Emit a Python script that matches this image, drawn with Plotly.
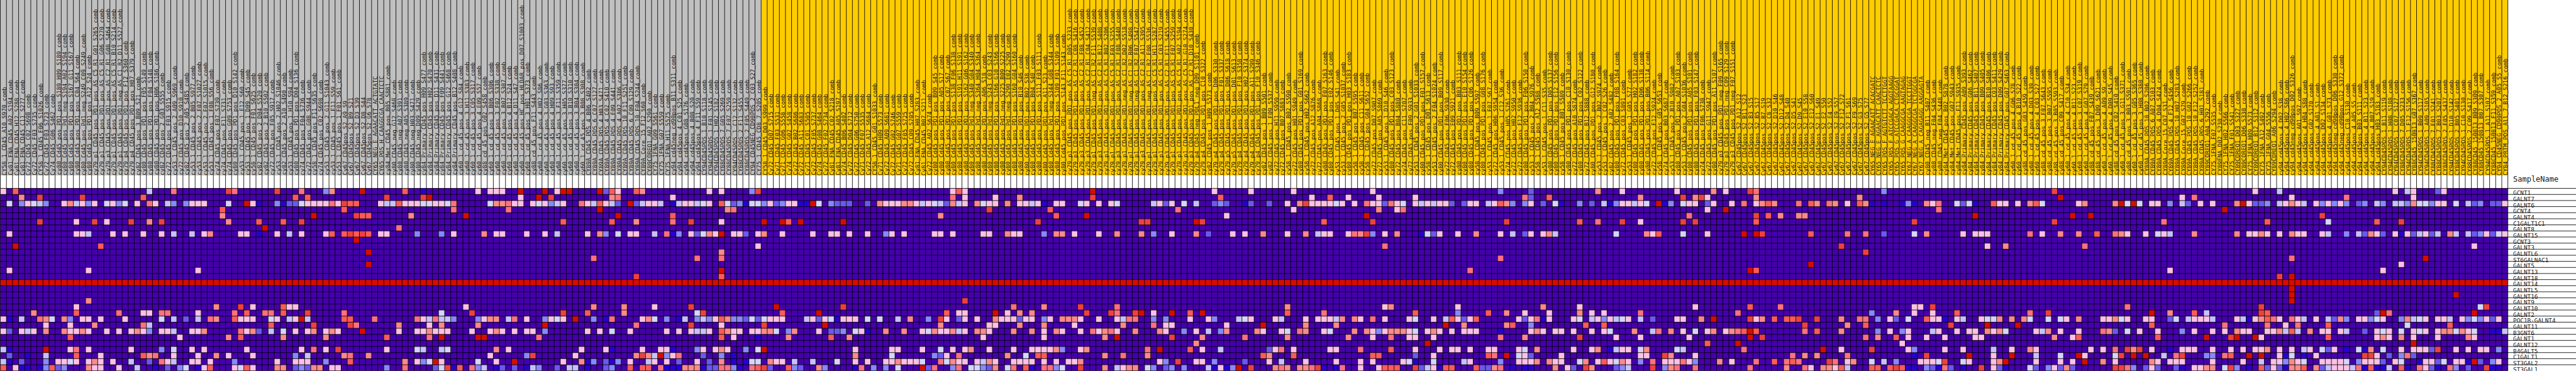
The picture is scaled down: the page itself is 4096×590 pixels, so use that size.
import plotly.graph_objects as go

SAMPLES = """CY58_1_CD45_A10_S970_comb Cy81_FNA_CD45_A02_S194_comb Cy81_FNA_CD45_H12_S288_comb Cy81_FNA_CD45_C11_S277_comb Cy72_CD45_C02_S698_comb Cy72_CD45_F03_S735_comb CY58_1_CD45_F06_S1026_comb Cy72_CD45_F03_S723_comb Cy74_CD45_G06_S462_comb
cy80_Cd45_pos_PD1_pos_S189_H09_S189_comb cy80_Cd45_pos_Pd1_neg_S194_A02_S194_comb cy80_Cd45_pos_PD1_pos_S167_G11_S167_comb cy80_Cd45_pos_PD1_pos_C04_S64_comb cy80_Cd45_pos_Pd1_neg_S249_C09_S249_comb cy80_Cd45_pos_PD1_pos_A12_S24_comb
cy79_p1_CD45_pos_PD1_pos_AS_C5_R1_G01_S265_comb cy79_p1_CD45_pos_PD1_pos_AS_C5_R1_G06_S270_comb cy79_p3_CD45_pos_PD1_pos_AS_C2_R1_G08_S464_comb cy79_p1_CD45_pos_PD1_pos_AS_C5_R1_B10_S214_comb cy79_p1_CD45_pos_PD1_neg_AS_C1_R2_D11_S527_comb
cy79_p4_CD45_pos_PD1_pos_F12_S360_comb cy79_p4_CD45_pos_PD1_pos_H07_S379_comb cy82_CD45_pos_3_B09_S21_comb cy80_CD45_pos_PD1_pos_F05_S149_comb cy80_CD45_pos_PD1_pos_F04_S148_comb cy80_CD45_pos_PD1_pos_H06_S186_comb cy82_CD45_pos_2_G03_S555_comb cy72_CD45_pos_F03_S915_comb cy53_1_CD45_pos_2_A09_S969_comb cy72_CD45_pos_D10_S910_comb cy82_CD45_pos_2_A05_S485_comb cy53_1_CD45_pos_2_B05_S977_comb cy53_1_CD45_pos_2_F07_S1027_comb cy53_1_CD45_pos_2_F07_S1015_comb cy53_1_CD45_pos_1_F08_S56_comb cy74_CD45_pos_F07_S739_comb cy74_CD45_pos_F11_S731_comb cy74_CD45_pos_G09_S753_comb cy80_CD45_pos_PD1_pos_D10_S142_comb cy53_1_CD45_pos_1_E12_S60_comb cy53_1_CD45_pos_1_D09_S45_comb
cy58_1_CD45_pos_F01_S625_comb cy82_CD45_pos_2_D04_S520_comb cy82_CD45_pos_2_B10_S502_comb cy72_CD45_pos_F05_S917_comb cy53_1_CD45_pos_2_H02_S1046_comb cy82_CD45_pos_2_A10_S490_comb cy53_1_CD45_pos_1_H10_S94_comb cy80_CD45_pos_PD1_pos_D04_S136_comb cy74_CD45_pos_F04_S736_comb cy72_CD45_pos_G08_S944_comb cy58_1_CD45_pos_F11_S635_comb cy74_CD45_pos_C02_S698_comb cy53_1_CD45_pos_2_G11_S1043_comb cy53_1_CD45_pos_1_F11_S59_comb cy53_1_CD45_pos_1_F01_S61_comb
Cy67_CD45pos_S2_A9_S9 Cy67_CD45pos_S2_B9_S21 Cy67_CD45pos_S2_D3_S39 Cy67_CD45pos_S2_D8_S44 Cy67_CD45pos_S2_G6_S78 CY65_NEG_E_AGAACATT_ACTGTATC CY65_POS_H_CAAGGCGA_CAACTCTC cy84_Met_CD45_pos_B05_S881_comb cy80_CD45_neg_G12_S468_comb cy80_CD45_neg_A07_S391_comb cy80_CD45_neg_A05_S389_comb cy80_CD45_neg_H03_S471_comb cy80_CD45_neg_D09_S429_comb
cy84_Primary_CD45_pos_H09_S477_comb cy84_Primary_CD45_pos_H02_S470_comb cy84_Primary_CD45_pos_D11_S431_comb cy84_Primary_CD45_pos_F09_S441_comb cy84_Primary_CD45_pos_G12_S468_comb cy84_Primary_CD45_pos_B12_S408_comb
cy60_1_cd_45_pos_4_G12_S84_comb cy60_1_cd_45_pos_3_H11_S383_comb cy60_1_cd_45_pos_3_C05_S317_comb cy60_1_cd_45_pos_4_E09_S57_comb cy88_cd_45_pos_G02_S458_comb cy60_1_cd_45_pos_3_B06_S306_comb cy60_1_cd_45_pos_3_F02_S338_comb cy60_1_cd_45_pos_3_B07_S307_comb cy60_1_cd_45_pos_4_B12_S24_comb cy60_1_cd_45_pos_4_D11_S47_comb cy60_1_cd_45_pos_HC_pos_HLDAR_pos_D07_S1003_comb cy60_1_cd_45_pos_3_H01_S373_comb cy88_cd_45_pos_F11_S443_comb
cy60_1_cd_45_pos_4_H02_S86_comb cy60_1_cd_45_pos_3_G03_S363_comb cy60_1_cd_45_pos_4_H09_S93_comb cy60_1_cd_45_pos_3_F11_S359_comb cy60_1_cd_45_pos_3_H05_S377_comb cy60_1_cd_45_pos_3_B10_S310_comb cy60_1_cd_45_pos_3_B04_S304_comb cy60_1_cd_45_pos_3_B08_S308_comb
CY89A_CD45_POS_4_B06_S402_comb CY89A_CD45_POS_6_C07_S127_comb CY89A_CD45_POS_4_H03_S471_comb CY89A_CD45_POS_4_C02_S410_comb CY89A_CD45_POS_4_F09_S441_comb CY89A_CD45_POS_4_A02_S386_comb CY89A_CD45_POS_10_F11_S251_comb CY89A_CD45_POS_6_C09_S129_comb CY89A_CD45_POS_10_F04_S244_comb CY89A_Core_15_F12_S60_comb CY89COREQ1_A02_S290_comb CY75_1FNA_G09_S561_comb CY75_1FNA_G07_S559_comb CY75_1FNA_H11_S575_comb
cy94_cd45neg_cd90pos_B11_S311_comb cy94_cd45pos_4_C01_S25_comb cy94_cd45pos_G08_S176_comb cy94_cd45pos_4_B08_S20_comb cy94_cd45pos_4_F11_S59_comb CY94CD45POS_1_B10_S118_comb CY94CD45POS_1_F01_S145_comb CY94CD45POS_1_H02_S182_comb CY88CD45POS_7_G05_S269_comb CY88CD45POS_7_F07_S259_comb CY94CD45POS_1_C12_S132_comb CY88CD45POS_2_F11_S455_comb CY88CD45POS_2_F05_S449_comb CY94_CD45NEG_CD90POS_2_C03_S27_comb CY75_1_CD45_CD8_7_S205_comb
CY58_1_CD45_D03_S999_comb Cy72_CD45_D07_S715_comb Cy71_CD45_F03_S531_comb Cy71_CD45_G06_S558_comb Cy74_CD45_G02_S458_comb Cy72_CD45_B02_S686_comb Cy72_CD45_A11_S683_comb Cy71_CD45_C01_S505_comb Cy72_CD45_F05_S737_comb Cy74_CD45_G08_S464_comb
Cy72_CD45_F02_S734_comb Cy81_FNA_CD45_C02_S218_comb Cy81_FNA_CD45_A05_S197_comb Cy74_CD45_B06_S402_comb Cy72_CD45_D04_S712_comb Cy72_CD45_G06_S750_comb Cy71_CD45_F07_S535_comb Cy72_CD45_A12_S684_comb CY58_1_CD45_G01_S1033_comb Cy71_CD45_H09_S573_comb Cy72_CD45_A09_S681_comb Cy72_CD45_G02_S746_comb Cy71_CD45_G07_S559_comb Cy72_CD45_F05_S725_comb Cy72_CD45_C09_S705_comb Cy81_FNA_CD45_H07_S283_comb Cy81_FNA_CD45_B07_S211_comb Cy72_CD45_A02_S674_comb
cy80_Cd45_pos_PD1_pos_B09_S45_comb cy80_Cd45_pos_PD1_pos_A05_S17_comb cy80_Cd45_pos_PD1_pos_C07_S67_comb cy80_Cd45_pos_PD1_pos_S138_F06_S138_comb cy80_Cd45_pos_PD1_pos_S191_H11_S191_comb cy80_Cd45_pos_PD1_pos_S162_G06_S162_comb cy80_Cd45_pos_Pd1_neg_S340_G04_S340_comb cy80_Cd45_pos_Pd1_neg_S364_H04_S364_comb cy80_Cd45_pos_PD1_pos_A06_S18_comb cy80_Cd45_pos_Pd1_neg_S243_C03_S243_comb cy80_Cd45_pos_PD1_pos_S166_G10_S166_comb cy80_Cd45_pos_Pd1_neg_S225_B09_S225_comb cy80_Cd45_pos_Pd1_neg_S290_E02_S290_comb cy80_Cd45_pos_PD1_pos_S160_G04_S160_comb cy80_Cd45_pos_PD1_pos_B10_S46_comb cy80_Cd45_pos_PD1_pos_B02_S38_comb cy80_Cd45_pos_PD1_pos_B04_S40_comb cy80_Cd45_pos_PD1_pos_S111_F03_S111_comb cy80_Cd45_pos_PD1_pos_A11_S23_comb cy80_Cd45_pos_Pd1_neg_S344_G08_S344_comb cy80_Cd45_pos_PD1_pos_S109_F01_S109_comb cy80_Cd45_pos_PD1_pos_S143_F11_S143_comb
cy79_p1_CD45_pos_PD1_pos_AS_C5_R1_D05_S233_comb cy79_p3_CD45_pos_PD1_pos_AS_C2_R1_C08_S416_comb cy79_p3_CD45_pos_PD1_pos_AS_C2_R1_F08_S452_comb cy79_p3_CD45_pos_PD1_pos_AS_C2_R1_C04_S412_comb cy79_p1_CD45_pos_PD1_neg_AS_C1_R2_F11_S539_comb cy79_p3_CD45_pos_PD1_pos_AS_C2_R1_B12_S408_comb cy79_p1_CD45_pos_PD1_pos_AS_C5_R1_B02_S206_comb cy79_p1_CD45_pos_PD1_pos_AS_C5_R1_F03_S255_comb cy79_p3_CD45_pos_PD1_pos_AS_C2_R1_F08_S440_comb cy79_p1_CD45_pos_PD1_neg_AS_C1_R2_D02_S518_comb cy79_p1_CD45_pos_PD1_neg_AS_C1_R2_B06_S498_comb cy79_p1_CD45_pos_PD1_neg_AS_C1_R2_F07_S547_comb cy79_p3_CD45_pos_PD1_pos_AS_C2_R1_A11_S395_comb cy79_p1_CD45_pos_PD1_neg_AS_C1_R2_F08_S536_comb cy79_p1_CD45_pos_PD1_pos_AS_C5_R1_H11_S287_comb cy79_p1_CD45_pos_PD1_pos_AS_C5_R1_C03_S219_comb cy79_p3_CD45_pos_PD1_pos_AS_C2_R1_F11_S455_comb cy79_p1_CD45_pos_PD1_pos_AS_C5_R1_F07_S259_comb cy79_p1_CD45_pos_PD1_pos_AS_C5_R1_A02_S194_comb cy79_p1_CD45_pos_PD1_pos_AS_C5_R1_G10_S274_comb cy79_p3_CD45_pos_PD1_pos_AS_C2_R1_D10_S430_comb
cy79_p4_CD45_neg_PDL1_neg_D09_S1101_comb cy79_p4_CD45_pos_PD1_pos_C10_S322_comb cy82_CD45_pos_1_H09_S573_comb cy79_p4_CD45_pos_PD1_pos_D06_S330_comb cy79_p4_CD45_pos_PD1_pos_F01_S337_comb cy79_p5_CD45_pos_PD1_pos_D06_S618_comb cy79_p5_CD45_pos_PD1_pos_D01_S613_comb cy79_p4_CD45_pos_PD1_pos_F10_S358_comb cy79_p4_CD45_pos_PD1_pos_H02_S374_comb cy79_p4_CD45_pos_PD1_pos_A11_S299_comb cy79_p4_CD45_pos_PD1_pos_F10_S346_comb
cy82_CD45_pos_1_B09_S501_comb cy82_CD45_pos_1_F09_S537_comb cy72_CD45_pos_H11_S959_comb cy72_CD45_pos_B07_S883_comb cy58_1_CD45_pos_B02_S590_comb cy72_CD45_pos_H01_S949_comb cy80_CD45_pos_PD1_pos_G01_S169_comb cy58_1_CD45_pos_H02_S662_comb cy72_CD45_pos_A12_S876_comb cy72_CD45_pos_A04_S868_comb cy80_CD45_pos_PD1_pos_F07_S163_comb cy80_CD45_pos_PD1_pos_E02_S146_comb cy53_1_CD45_pos_1_D05_S41_comb cy53_1_CD45_pos_2_G05_S1037_comb cy80_CD45_pos_PD1_pos_H03_S183_comb cy58_1_CD45_pos_B07_S595_comb cy58_1_CD45_pos_C11_S611_comb cy58_1_CD45_pos_G04_S652_comb cy72_CD45_pos_D07_S907_comb cy72_CD45_pos_A05_S869_comb cy53_1_CD45_pos_1_D10_S46_comb
cy80_CD45_pos_PD1_pos_C03_S123_comb cy72_CD45_pos_B04_S880_comb cy74_CD45_pos_C11_S707_comb cy72_CD45_pos_F09_S933_comb cy53_1_CD45_pos_2_G01_S1033_comb cy80_CD45_pos_PD1_pos_F01_S157_comb cy58_1_CD45_pos_D01_S613_comb cy53_1_CD45_pos_2_F04_S1024_comb cy80_CD45_pos_PD1_pos_B09_S117_comb cy72_CD45_pos_F06_S930_comb cy72_CD45_pos_E09_S921_comb cy80_CD45_pos_PD1_pos_B03_S111_comb cy80_CD45_pos_PD1_pos_E10_S154_comb cy80_CD45_pos_PD1_pos_C06_S126_comb cy58_1_CD45_pos_B09_S597_comb cy80_CD45_pos_PD1_pos_G08_S176_comb cy53_1_CD45_pos_1_F07_S67_comb cy72_CD45_pos_H06_S954_comb cy53_1_CD45_pos_1_C12_S36_comb cy74_CD45_pos_H05_S761_comb cy72_CD45_pos_H02_S950_comb cy72_CD45_pos_F12_S936_comb cy80_CD45_pos_PD1_pos_F06_S150_comb cy53_1_CD45_pos_2_B04_S976_comb cy58_1_CD45_pos_A12_S588_comb cy53_1_CD45_pos_1_C11_S35_comb cy80_CD45_pos_PD1_pos_D05_S137_comb cy80_CD45_pos_PD1_pos_E12_S156_comb cy58_1_CD45_pos_B01_S589_comb cy80_CD45_pos_PD1_pos_C10_S130_comb cy72_CD45_pos_A10_S874_comb cy80_CD45_pos_PD1_pos_C02_S122_comb cy72_CD45_pos_B12_S888_comb cy80_CD45_pos_PD1_pos_G12_S180_comb cy53_1_CD45_pos_2_B02_S974_comb cy53_1_CD45_pos_1_C02_S26_comb cy82_CD45_pos_2_A02_S482_comb cy80_CD45_pos_PD1_pos_F08_S164_comb cy72_CD45_pos_C03_S891_comb cy53_1_CD45_pos_1_G05_S77_comb cy80_CD45_pos_PD1_pos_H02_S182_comb cy80_CD45_pos_PD1_pos_D06_S138_comb cy80_CD45_pos_PD1_pos_B06_S114_comb cy72_CD45_pos_F12_S924_comb cy58_1_CD45_pos_G05_S653_comb cy74_CD45_pos_B03_S687_comb cy53_1_CD45_pos_2_B10_S982_comb
cy80_CD45_pos_PD1_pos_A07_S103_comb cy53_1_CD45_pos_2_G04_S1036_comb cy80_CD45_pos_PD1_pos_A05_S101_comb cy80_CD45_pos_PD1_pos_F03_S147_comb cy74_CD45_pos_F06_S738_comb cy72_CD45_pos_G11_S947_comb cy80_CD45_pos_PD1_pos_A11_S107_comb cy79_p3_CD45_pos_PD1_neg_F09_S165_comb cy79_p3_CD45_pos_PD1_neg_C09_S129_comb cy79_p3_CD45_pos_PD1_neg_F07_S151_comb
Cy67_CD45pos_S2_A12_S12 Cy67_CD45pos_S2_B11_S23 Cy67_CD45pos_S2_B3_S15 Cy67_CD45pos_S2_B5_S17 Cy67_CD45pos_S2_B7_S19 Cy67_CD45pos_S2_C8_S32 Cy67_CD45pos_S2_D10_S46 Cy67_CD45pos_S2_D12_S48 Cy67_CD45pos_S2_D4_S40 Cy67_CD45pos_S2_D5_S41 Cy67_CD45pos_S2_D9_S45 Cy67_CD45pos_S2_E10_S58 Cy67_CD45pos_S2_E12_S60 Cy67_CD45pos_S2_E1_S49 Cy67_CD45pos_S2_E2_S50 Cy67_CD45pos_S2_E4_S52 Cy67_CD45pos_S2_E9_S57 Cy67_CD45pos_S2_F12_S72 Cy67_CD45pos_S2_F1_S61 Cy67_CD45pos_S2_F9_S69 Cy67_CD45pos_S2_G3_S75 Cy67_CD45pos_S2_G5_S77
CY65_NEG_E_AGAACATT_ACACGATC CY65_NEG_E_AGAACATT_CAACTCTC CY65_POS_F_AGTGTCTT_TCCTTGGT CY65_POS_F_ATCCGACA_AGGTAAGG CY65_POS_G_ATCCGACA_CTGCGGAT CY65_POS_G_CAAGGCGA_AAGTAGAG CY67_NEG_A_CAAGGCGA_TCCTTGGT CY67_NEG_A_CAAGGCGA_TCTGGCGA CY67_NEG_A_CAGAGAGG_AAGGAGTA cy80_CD45_neg_B11_S407_comb cy80_CD45_neg_F04_S436_comb cy80_CD45_neg_F04_S448_comb cy84_Met_CD45_pos_B02_S878_comb cy84_Met_CD45_pos_G07_S943_comb cy84_Met_CD45_pos_F11_S935_comb
cy84_Primary_CD45_pos_A09_S393_comb cy84_Primary_CD45_pos_G06_S462_comb cy84_Primary_CD45_pos_B11_S407_comb cy84_Primary_CD45_pos_B09_S405_comb cy84_Primary_CD45_pos_B10_S406_comb cy84_Primary_CD45_pos_C03_S411_comb cy84_Primary_CD45_pos_D09_S429_comb cy84_Primary_CD45_pos_G07_S463_comb
cy60_1_cd_45_pos_4_G06_S78_comb cy60_1_cd_45_pos_4_B10_S22_comb cy88_cd_45_pos_G03_S459_comb cy60_1_cd_45_pos_4_D03_S39_comb cy60_1_cd_45_pos_4_C03_S27_comb cy88_cd_45_pos_3_F07_S643_comb cy88_cd_45_pos_3_B07_S595_comb cy88_cd_45_pos_3_B05_S593_comb cy88_cd_45_pos_C09_S417_comb cy60_1_cd_45_pos_4_C10_S34_comb cy60_1_cd_45_pos_4_B11_S23_comb cy60_1_cd_45_pos_3_C07_S319_comb cy60_1_cd_45_pos_4_G07_S79_comb cy88_cd_45_pos_F07_S439_comb cy88_cd_45_pos_3_D09_S621_comb cy60_1_cd_45_pos_4_A09_S9_comb cy60_1_cd_45_pos_4_D09_S45_comb cy88_cd_45_pos_C02_S410_comb cy60_1_cd_45_pos_3_G11_S371_comb cy88_cd_45_pos_3_B03_S591_comb cy60_1_cd_45_pos_3_G05_S365_comb cy60_1_cd_45_pos_3_H08_S380_comb
CY89A_CD45_POS_10_B02_S206_comb CY89A_CD45_POS_6_A07_S103_comb CY89A_CD45_POS_4_D04_S424_comb CY89A_Core_15_C07_S31_comb CY89A_CD45_POS_4_F12_S456_comb CY89A_CD45_POS_10_H07_S283_comb CY89A_Core_15_G07_S79_comb CY89A_CD45_POS_10_G02_S266_comb CY89A_CD45_POS_10_F12_S252_comb CY89A_CD45_POS_6_H01_S181_comb CY89COREQ1_A04_S292_comb CY75_1FNA_F07_S535_comb CY89FNA_D02_S230_comb CY75_1FNA_H02_S566_comb CY75_1FNA_F01_S541_comb CY89COREQ1_D03_S327_comb
CY89COREQ1_D06_S330_comb CY75_1FNA_H09_S573_comb CY89COREQ1_B12_S312_comb CY75_1FNA_A12_S492_comb CY75_1FNA_G04_S556_comb CY89COREQ1_A06_S294_comb cy94_cd45pos_4_D02_S38_comb cy94_cd45pos_4_H02_S86_comb cy94_cd45neg_cd90pos_D02_S326_comb cy94_cd45pos_A01_S97_comb cy94_cd45pos_4_H04_S88_comb cy94_cd45pos_G02_S170_comb cy94_cd45pos_4_A01_S1_comb cy94_cd45pos_D02_S134_comb cy94_cd45pos_4_G01_S73_comb cy94_cd45neg_cd90pos_D06_S330_comb cy94_cd45neg_cd90pos_G12_S372_comb cy94_cd45pos_C10_S130_comb cy94_cd45pos_4_A05_S5_comb cy94_cd45pos_B03_S111_comb cy94_cd45pos_4_B11_S23_comb cy94_cd45pos_4_B07_S19_comb cy94_cd45pos_H03_S183_comb
CY94CD45POS_1_B11_S119_comb CY94CD45POS_1_H08_S188_comb CY94CD45POS_1_C07_S127_comb CY88CD45POS_7_D05_S233_comb CY94CD45POS_1_F12_S156_comb CY88CD45_150813_G07_S367_comb CY94CD45POS_1_B09_S117_comb CY94CD45POS_1_A09_S105_comb CY88CD45POS_7_F01_S241_comb CY88CD45POS_7_B03_S207_comb CY88CD45POS_2_F05_S437_comb CY94CD45POS_1_D10_S142_comb CY88CD45POS_2_B05_S401_comb CY94CD45POS_1_C10_S130_comb CY88CD45POS_2_C09_S417_comb CY88CD45_150813_B09_S309_comb CY88CD45_150813_B07_S307_comb CY94CD45POS_1_A11_S107_comb CY88CD45_150813_F11_S359_comb CY94_CD45NEG_CD90POS_2_A05_S5_comb CY84_PRTM_POS_All_7_B12_S216_comb""".split()

GENES = ["GCNT1","GALNT7","GALNT6","GCNT4","GALNT4","C1GALT1C1","GALNT8","GALNT15","GCNT3","GALNT3","GALNTL6","ST6GALNAC1","GALNT5","GALNT13","GALNT18","GALNT14","GALNTL5","GALNT16","GALNT9","GALNT10","GALNT2","POC1B-GALNT4","GALNT11","B3GNT6","GALNT1","GALNT12","B4GALT5","C1GALT1","ST3GAL2","ST3GAL1"]

# heat levels, "column:level" (level in hex, 0 = the background level)
PALETTE = ["#4500AD","#2700D1","#6B58EF","#8888FF","#C7C1FF","#D5D5FF","#FFC0E5","#FF8989","#FF7080","#FF5A5A","#EF4040","#D60C00"]
GROUP_SIZES = [125, 287]
GROUP_COLORS = ["#C0C0C0", "#FFCC00"]

R_GCNT1 = "0:6 2:9 24:4 28:8 37:a 38:8 45:a 49:8 53:3 54:7 59:b 66:9 69:1 78:6 80:6 81:6 82:6 85:b 89:b 91:6 92:b 93:b 98:b 99:2 100:9 101:6 104:9 105:7 116:6 118:6 123:3 124:a 156:6 157:9 158:6 179:b 199:6 205:6 212:6 225:6 246:3 251:2 262:7 266:6 275:6 281:7 283:6 287:a 288:8 309:3 337:a 370:6 374:4 393:6 395:4 396:6 400:2 401:6"
R_GALNT7 = "3:7 6:a 13:a 23:9 48:9 50:9 63:a 69:a 70:b 85:6 88:b 90:a 100:7 101:8 110:6 156:8 158:6 163:6 167:7 179:a 200:9 215:6 218:9 221:6 226:6 232:6 250:8 251:2 254:9 269:7 276:a 278:7 279:a 280:6 288:7 305:7 338:b 358:6 360:8 376:6 385:8 396:6"
R_GALNT6 = "1:5 3:3 4:6 5:5 6:4 7:3 10:6 11:7 12:4 13:6 14:3 15:6 17:5 18:6 19:3 20:5 22:6 24:8 25:6 27:4 28:3 30:3 31:6 32:6 33:6 37:5 40:b 41:6 42:1 45:3 46:1 47:2 48:2 49:5 50:6 51:6 52:6 53:6 54:8 55:6 56:a 57:9 58:9 62:6 63:4 64:4 65:9 66:6 67:6 68:6 69:5 70:5 71:6 72:6 73:5 74:8 80:5 81:7 82:7 83:8 84:6 85:6 87:6 88:5 89:6 90:3 91:4 92:6 95:8 96:6 97:4 98:9 99:6 100:4 101:2 103:b 104:2 105:4 106:6 107:6 108:4 110:1 111:4 112:6 113:6 114:4 115:5 116:6 118:9 119:5 120:2 121:3 122:1 123:5 124:5 125:3 126:6 127:2 128:3 129:6 130:6 131:1 132:1 133:b 134:5 136:3 137:2 138:2 139:2 142:2 144:7 145:6 146:6 147:6 148:7 149:7 150:6 151:4 152:6 153:5 154:4 155:2 156:7 157:4 158:6 160:7 161:5 162:6 163:6 165:7 167:6 168:6 169:4 170:6 171:1 173:6 174:6 177:5 178:6 180:6 182:6 183:5 189:4 190:6 191:2 192:6 194:5 196:4 199:2 200:3 201:2 204:1 205:2 208:2 211:6 213:7 214:a 215:6 216:6 217:6 218:6 219:5 220:6 222:6 224:8 225:6 226:6 227:2 228:8 229:6 230:5 232:6 233:4 234:6 235:4 236:6 237:6 238:2 240:2 241:6 242:6 244:4 245:6 246:9 247:7 248:3 250:3 251:6 253:2 255:5 256:1 259:3 261:2 263:4 264:1 265:3 266:6 267:6 268:4 269:6 270:5 272:b 273:1 274:3 276:5 277:6 278:6 280:2 281:6 284:6 286:8 288:6 289:7 290:9 291:7 295:8 297:9 298:7 300:8 301:7 303:6 305:9 306:7 307:1 309:1 312:1 313:3 314:1 316:7 317:6 318:8 321:5 322:2 323:5 324:1 327:9 328:6 329:6 331:6 333:7 334:9 335:5 341:6 342:7 347:7 348:b 349:5 350:b 351:5 353:6 354:6 356:3 358:4 359:2 361:6 363:6 367:7 368:b 369:6 370:2 371:2 372:3 374:4 375:6 376:7 377:6 378:4 380:6 381:3 382:6 383:3 384:6 385:3 387:2 388:3 390:4 391:3 393:4 394:4 395:3 396:7 397:5 398:5 399:3 400:6 401:6 403:5 405:4 406:2 407:3 409:2 410:2 411:6"
R_GCNT4 = "36:9 56:9 74:8 83:8 98:b 119:7 120:8 162:a 172:9 193:8 212:6 226:7 229:6 230:8 280:6 283:b 318:8 365:b"
R_GALNT4 = "36:7 51:b 58:a 59:9 60:9 67:7 76:b 101:b 110:9 154:7 173:9 178:b 201:6 224:b 277:8 288:a 290:9 292:7 295:7 296:7 324:b 340:b 343:b 381:a"
R_C1GALT1C1 = "6:a 12:6 15:a 17:6 21:a 24:7 26:a 37:7 42:9 46:9 49:a 92:9 100:9 104:7 110:8 113:a 118:6 125:b 128:b 129:9 131:b 138:b 170:a 187:a 188:a 196:b 197:a 217:9 225:a 247:a 259:9 262:8 266:a 269:6 276:a 278:a 288:9 314:a 337:a 355:8 372:9 382:5 390:9 394:a"
R_GALNT8 = "43:b 65:8"
R_GALNT15 = "1:6 12:6 13:6 14:4 18:6 20:6 23:6 26:6 28:4 31:4 33:6 34:7 39:6 40:6 42:1 45:6 47:4 49:6 53:6 54:9 56:9 57:a 58:9 59:a 60:9 62:6 63:6 68:3 72:3 74:6 79:7 81:6 82:6 86:6 89:6 91:4 96:6 98:7 99:3 101:5 103:6 104:6 107:4 109:8 110:1 111:3 113:6 114:2 115:5 116:7 117:6 118:b 120:6 121:6 122:2 124:6 125:7 128:6 133:6 136:6 137:6 139:6 142:6 145:3 146:6 148:6 153:6 154:6 156:6 161:6 162:6 165:7 166:6 167:6 171:3 173:7 174:7 176:6 180:6 183:7 187:7 189:3 192:6 196:7 198:2 202:6 204:6 207:7 211:6 214:7 216:4 217:6 218:6 221:6 222:8 223:7 224:a 225:3 227:6 229:7 233:1 234:5 235:2 236:6 239:6 242:7 246:6 248:4 250:2 251:6 253:6 254:7 255:4 265:5 270:7 271:6 272:9 276:5 280:6 286:b 288:b 289:a 297:9 303:8 306:8 309:2 314:5 316:7 322:6 324:6 325:6 326:6 333:8 335:6 338:7 341:7 344:9 347:8 348:7 349:6 352:6 354:5 355:6 356:4 360:7 367:7 369:6 370:6 371:7 372:6 374:6 376:7 377:6 378:6 381:6 382:4 385:3 387:4 388:2 389:7 390:6 391:2 393:6 394:1 395:6 396:2 397:4 398:6 399:2 400:4 402:7 403:4 405:4 406:2 407:3 408:6 409:2 410:5 411:6"
R_GCNT3 = "58:b"
R_GALNT3 = "2:b 16:9 124:6 227:8 302:a 326:6 329:7 342:8 406:6"
R_GALNTL6 = "60:b 118:7 306:a"
R_ST6GALNAC1 = "97:8 114:8 118:8 246:8 376:8 398:b"
R_GALNT5 = "60:b 297:b 394:6"
R_GALNT13 = "1:6 14:6 32:6 118:b 241:8 287:b 288:9 356:6 391:6"
R_GALNT18 = "104:a 118:9 374:a 376:b"
R_GALNT14 = "all:b"
R_GALNTL5 = "376:b"
R_GALNT16 = "376:b 403:b"
R_GALNT9 = "14:7 158:a 376:b"
R_GALNT10 = "12:6 35:7 39:a 41:6 46:9 47:6 48:6 76:6 97:7 102:7 107:6 113:a 127:b 138:a 166:8 171:7 177:a 183:8 211:7 227:6 228:7 239:6 253:7 259:6 278:6 287:9 292:8 314:6 315:6 317:a 349:8 371:a 407:5 408:a"
R_GALNT2 = "5:7 12:9 19:8 23:6 24:6 26:8 27:8 32:6 38:8 40:9 43:8 44:8 46:9 50:a 56:8 72:5 77:a 92:a 96:9 102:7 114:5 115:a 128:9 134:b 155:9 157:6 158:6 163:b 165:6 167:7 169:7 178:a 182:a 183:8 186:a 187:b 189:6 192:b 195:9 197:b 211:9 217:8 232:9 239:3 244:9 247:7 250:6 254:6 259:7 261:6 263:6 269:8 285:8 307:3 311:7 314:6 317:6 321:9 333:8 336:a 353:b 356:7 360:9 362:4 371:a 372:9 390:2 391:b 392:8 406:b"
R_POC1B_GALNT4 = "0:6 1:1 3:4 6:8 7:7 8:5 10:7 11:3 13:6 14:6 16:6 20:6 26:5 28:4 30:2 32:4 34:8 35:7 38:9 39:6 40:6 41:6 44:5 45:6 47:4 48:6 49:b 50:4 56:9 57:9 61:8 68:8 69:6 70:4 71:8 72:4 73:4 74:3 78:3 79:6 80:7 81:7 83:4 84:8 86:6 89:3 90:6 91:5 92:6 94:b 97:3 99:1 100:8 105:6 106:7 107:5 109:3 111:1 112:4 114:3 115:4 116:3 117:6 118:9 119:7 120:3 121:3 122:2 123:5 124:2 125:5 126:6 127:6 128:6 132:4 133:6 134:2 135:6 136:5 137:1 138:6 139:6 140:6 142:5 144:5 147:4 149:7 152:3 154:a 155:6 157:2 158:6 160:6 163:7 164:6 165:6 166:6 167:2 168:6 169:6 171:3 172:6 174:7 175:7 176:7 177:6 180:6 183:6 184:4 185:8 186:8 189:3 191:3 195:6 198:6 199:3 203:4 204:5 205:6 209:6 210:4 214:6 216:6 217:6 218:6 219:4 220:7 222:7 223:6 225:8 227:6 231:6 232:5 235:6 237:4 238:9 239:6 240:2 241:6 242:9 249:6 250:2 251:6 252:8 253:1 254:6 258:6 259:5 261:4 262:6 263:3 264:6 265:4 266:5 267:6 269:4 271:2 275:6 276:6 279:7 281:b 287:a 288:6 289:7 291:9 293:9 294:9 295:a 298:a 302:7 305:8 306:8 308:3 310:6 311:2 313:5 316:9 317:6 318:6 319:1 321:6 322:4 325:6 326:5 327:5 328:7 330:7 332:7 333:5 336:5 338:5 339:6 341:7 345:6 346:6 347:7 348:5 349:6 352:6 353:6 356:2 357:5 359:4 360:6 361:6 362:6 363:4 367:6 368:4 369:1 370:6 371:7 372:9 373:8 374:6 376:8 377:6 378:4 380:6 382:4 383:2 384:7 385:3 387:6 388:6 389:3 390:5 391:6 394:3 395:7 396:4 397:5 398:6 400:6 401:6 402:4 404:6 405:3 406:5 407:3 408:6 409:2 410:6"
R_GALNT11 = "7:6 11:6 15:7 23:8 24:4 44:9 51:a 57:a 58:8 65:7 70:6 72:7 78:7 89:b 104:8 113:a 118:6 125:a 135:b 154:7 162:6 163:6 167:7 171:7 176:6 184:7 189:8 191:6 192:6 201:6 207:b 214:7 219:7 237:b 240:7 247:7 248:9 251:3 260:9 263:9 296:a 303:7 306:9 320:a 326:b 331:b 353:9 365:8 372:8 375:6 377:8 382:9 395:5 402:9"
R_B3GNT6 = "0:6 1:2 3:6 4:4 5:6 7:7 10:7 11:6 12:6 13:7 14:6 17:6 19:6 21:6 22:7 23:6 24:3 26:6 27:6 28:4 31:6 32:6 33:7 39:8 40:6 41:7 42:2 44:4 46:5 48:6 50:6 51:7 53:6 54:7 55:6 59:b 65:6 68:6 69:6 70:7 71:6 72:6 73:6 77:6 80:6 81:7 82:6 84:6 86:6 87:6 89:3 96:6 98:6 100:5 103:6 109:6 111:6 113:6 114:4 115:4 116:6 118:9 119:7 120:6 121:6 123:6 124:6 125:7 126:7 127:5 129:3 130:7 134:6 136:2 137:2 138:3 140:5 141:6 142:1 145:7 148:7 151:6 152:5 153:7 154:6 155:6 156:7 157:4 158:6 160:7 161:7 162:6 166:7 169:7 171:6 173:7 174:6 177:6 179:8 180:6 181:7 182:8 183:6 186:7 190:7 191:6 194:3 196:6 198:4 200:3 201:7 206:7 207:6 210:6 211:5 213:8 214:7 217:6 218:5 222:7 224:7 225:6 226:3 227:6 228:7 229:7 230:7 231:6 232:5 234:6 235:7 236:6 238:6 240:6 241:6 242:6 246:1 251:6 252:7 253:6 255:6 256:6 258:6 261:6 263:6 264:5 268:7 271:4 272:8 274:7 276:6 278:5 280:6 281:7 283:6 284:7 285:8 286:9 287:b 288:9 296:8 298:9 302:7 308:3 310:6 312:3 313:6 317:4 318:6 321:6 323:6 324:6 326:7 327:6 328:7 329:5 334:6 335:4 336:7 338:6 341:6 345:8 346:7 347:2 349:5 351:6 354:6 358:3 360:6 363:6 365:6 367:7 368:6 369:6 372:6 373:6 374:7 375:4 376:9 377:4 379:7 381:6 382:6 384:6 385:4 388:2 390:6 391:5 392:6 394:5 396:6 397:5 398:6 400:6 401:7 402:7 403:5 404:7 405:6 406:5 409:1 410:1 411:4"
R_GALNT1 = "11:9 29:6 37:7 39:9 46:7 53:7 63:9 70:8 72:b 78:b 79:b 88:8 118:9 120:6 124:1 129:7 136:9 139:7 161:6 171:6 181:7 183:b 192:a 197:7 204:8 211:7 221:7 225:6 228:8 231:6 232:6 235:6 246:8 250:7 259:a 265:6 269:6 277:6 287:b 289:a 306:8 308:7 311:9 313:6 316:6 319:6 324:6 325:6 337:7 340:6 341:9 354:9 362:b 366:a 367:b 370:b 371:6 382:9 390:6 391:7 392:6 394:7 396:6 400:6 405:7 406:6"
R_GALNT12 = "196:7 234:b 280:9 285:b 312:6 396:b"
R_B4GALT5 = "0:4 1:1 7:b 11:6 12:8 14:6 21:6 26:3 28:5 31:6 33:6 40:6 49:6 51:8 53:6 55:a 63:6 68:5 69:4 72:4 73:5 81:7 83:6 95:6 99:6 100:1 105:6 108:6 109:6 110:1 114:3 115:6 117:6 118:7 119:6 122:3 124:5 125:b 140:6 146:6 147:6 151:6 154:5 156:6 158:6 159:7 162:6 166:6 169:6 170:6 171:6 172:6 173:7 174:3 177:6 178:7 188:8 190:b 195:9 197:6 200:4 208:2 209:6 210:8 212:6 218:6 219:6 223:8 228:9 232:6 236:6 238:6 239:6 241:6 244:6 245:6 249:6 250:5 252:7 258:6 261:6 262:7 264:1 265:4 266:6 267:6 269:5 270:7 275:5 276:4 286:8 299:b 302:6 307:a 313:6 314:3 319:6 322:6 327:4 330:6 333:7 334:6 343:6 345:6 347:8 349:a 350:7 351:a 353:6 356:1 358:6 359:6 360:6 363:6 366:6 368:6 370:6 371:6 372:7 374:6 376:6 378:4 379:6 381:5 382:2 383:6 385:1 387:5 388:1 389:7 391:5 394:6 396:6 397:6 398:6 399:2 400:a 403:6 405:6 407:6 408:6 410:3"
R_C1GALT1 = "1:2 4:1 7:4 12:9 16:6 23:9 24:7 25:8 28:6 32:6 35:7 37:6 41:6 48:3 50:4 56:7 57:8 60:7 80:6 86:3 87:a 94:6 104:7 105:a 106:7 107:4 108:b 109:3 110:6 111:8 115:2 118:3 120:1 140:7 146:5 153:3 154:2 155:6 157:8 165:7 168:5 170:9 171:9 181:7 184:8 188:7 207:9 208:7 212:9 225:9 226:9 232:2 235:6 244:9 245:8 247:b 249:5 250:6 251:2 256:6 269:6 270:6 273:a 274:7 278:6 294:8 296:7 298:7 303:8 314:1 316:a 323:b 327:6 330:b 334:4 338:5 341:b 342:6 347:5 348:a 350:b 352:b 355:4 357:8 358:a 362:3 363:3 365:8 366:9 369:b 371:b 374:6 375:1 376:5 378:1 380:6 388:a 389:a 390:6 392:2 394:3 395:8 396:2"
R_ST3GAL2 = "0:4 1:1 3:2 7:3 9:6 10:6 11:5 12:6 14:6 15:7 16:6 18:6 21:4 24:2 26:8 27:6 28:4 31:6 32:6 34:6 38:3 45:6 48:6 49:6 50:6 53:3 57:9 66:7 68:6 69:3 70:5 71:b 72:6 78:5 81:6 84:b 92:6 95:7 96:1 97:3 99:2 100:1 101:3 103:6 106:4 107:6 109:6 111:2 114:6 116:2 118:7 120:1 122:1 123:5 124:5 126:7 127:6 128:6 130:4 133:4 137:5 140:6 142:6 145:6 146:6 147:7 148:6 149:6 150:6 151:5 154:8 155:5 156:7 157:6 158:6 160:6 161:4 162:7 163:6 166:6 167:6 168:6 169:6 171:6 173:6 175:6 176:6 177:7 190:6 191:3 193:a 196:6 197:6 199:3 204:2 208:6 210:4 214:6 219:6 223:6 225:6 230:6 231:5 232:1 235:5 240:4 241:6 246:3 249:6 250:6 251:6 252:7 254:7 255:6 256:6 259:5 260:7 262:6 263:9 264:6 265:5 266:7 267:6 269:3 271:8 273:6 274:6 275:6 276:8 277:6 278:3 282:7 284:6 288:8 291:9 293:8 294:9 295:8 300:a 301:8 303:6 304:7 307:5 309:4 311:3 315:6 316:6 317:6 318:5 319:a 322:5 323:6 327:6 328:7 329:b 334:6 338:6 340:6 342:b 345:7 347:6 353:7 354:6 356:6 357:6 358:6 363:6 368:6 371:4 373:6 374:6 375:3 376:7 377:6 378:5 381:6 382:6 383:6 384:6 385:5 387:3 388:6 389:6 390:6 391:2 393:6 394:5 397:1 398:6 399:6 400:2 401:5 403:6 404:6 405:1 406:b 407:2 409:3 410:6"
R_ST3GAL1 = "0:9 2:6 3:1 4:1 6:1 7:3 8:9 9:2 10:3 14:7 15:6 16:6 19:6 22:4 25:1 27:2 29:3 30:5 32:1 33:6 34:9 38:6 39:5 40:9 41:6 45:7 46:7 48:2 49:3 50:2 51:7 52:7 54:6 55:6 63:3 66:8 71:2 72:5 73:a 74:1 75:9 77:8 78:3 79:4 81:1 82:2 84:2 86:1 87:4 88:3 91:2 93:4 94:4 96:1 99:2 100:3 103:9 105:9 106:9 108:8 109:1 110:1 111:1 112:7 113:7 114:7 115:1 116:2 117:2 118:8 119:8 120:3 121:1 123:8 124:9 125:a 126:2 129:9 130:3 131:2 134:7 135:3 140:1 141:8 143:3 145:3 147:5 151:b 152:2 153:8 156:3 157:8 159:5 160:5 161:3 162:2 163:7 165:5 166:8 168:9 169:1 171:8 172:8 173:3 174:5 177:a 181:7 183:4 184:6 185:7 186:7 188:5 189:3 191:2 192:3 194:3 198:4 199:1 200:6 201:1 202:3 203:b 205:a 209:7 210:8 211:7 213:7 214:7 215:8 216:a 217:1 219:1 220:8 223:6 226:6 227:9 228:9 229:9 232:a 233:2 234:4 235:6 236:1 237:9 238:9 242:9 243:2 244:2 245:7 246:8 248:1 250:1 251:1 255:7 257:6 258:2 260:a 261:7 265:2 266:3 267:4 271:a 273:3 274:7 275:8 278:8 287:8 293:7 296:8 297:6 299:7 300:7 301:6 302:9 303:4 307:9 308:9 310:9 311:a 312:9 313:1 314:1 316:3 317:2 318:1 319:8 320:2 322:1 325:a 327:6 328:2 329:1 333:5 334:2 336:3 337:6 338:2 339:7 340:2 347:a 348:a 349:8 350:3 352:2 353:6 354:2 357:2 358:1 360:6 361:6 362:7 363:7 365:5 366:a 367:3 369:1 371:9 372:2 373:6 374:2 375:1 376:7 377:7 378:9 380:7 381:2 382:4 383:6 384:6 385:6 386:4 387:8 388:1 389:9 390:1 391:1 392:4 394:9 395:1 397:8 398:6 399:2 400:1 402:8 403:3 405:2 408:a 409:1 410:1"

ROWS = [R_GCNT1,R_GALNT7,R_GALNT6,R_GCNT4,R_GALNT4,R_C1GALT1C1,R_GALNT8,R_GALNT15,R_GCNT3,R_GALNT3,R_GALNTL6,R_ST6GALNAC1,R_GALNT5,R_GALNT13,R_GALNT18,R_GALNT14,R_GALNTL5,R_GALNT16,R_GALNT9,R_GALNT10,R_GALNT2,R_POC1B_GALNT4,R_GALNT11,R_B3GNT6,R_GALNT1,R_GALNT12,R_B4GALT5,R_C1GALT1,R_ST3GAL2,R_ST3GAL1]

N = len(SAMPLES)
M = len(GENES)

def expand(s):
    if s.startswith("all:"):
        return [int(s[4:], 16)] * N
    row = [0] * N
    for tok in s.split():
        c, v = tok.split(":")
        row[int(c)] = int(v, 16)
    return row

Z = [expand(r) for r in ROWS]

# reference geometry in reference px -> data units of one cell
CELL = 12.0
X0 = 0.67
Y0 = 371.67
REF_W, REF_H = 5079, 732
BAND_BOTTOM = (346 - Y0) / CELL
TOP = -Y0 / CELL
BOTTOM = (REF_H - Y0) / CELL
LEFT = -X0 / CELL
RIGHT = (REF_W - X0) / CELL
SCALE = 4096 / 5079

n = len(PALETTE)
colorscale = []
for i, c in enumerate(PALETTE):
    colorscale += [[i / n, c], [(i + 1) / n, c]]

fig = go.Figure()
band = [[i for i, g in enumerate(GROUP_SIZES) for _ in range(g)]]
fig.add_trace(go.Heatmap(z=band, x=list(range(N + 1)), y=[TOP, BAND_BOTTOM], zmin=0, zmax=1,
                         colorscale=[[0, GROUP_COLORS[0]], [0.5, GROUP_COLORS[0]], [0.5, GROUP_COLORS[1]], [1, GROUP_COLORS[1]]],
                         showscale=False, hoverinfo="skip"))
fig.add_trace(go.Heatmap(z=Z, x=list(range(N + 1)), y=list(range(M + 1)), zmin=0, zmax=n,
                         colorscale=colorscale, showscale=False))
lx, ly = [], []
for k in range(N + 1):
    lx += [k, k, None]
    ly += [TOP, M, None]
for r in range(M + 1):
    lx += [0, RIGHT if r < M else N, None]
    ly += [r, r, None]
fig.add_trace(go.Scatter(x=lx, y=ly, mode="lines", line=dict(color="#000000", width=0.85), hoverinfo="skip"))

FONT = "DejaVu Sans Mono"
TEXT_COLOR = "#202020"
LABEL_SIZE = 11.63 * SCALE
anns = []
for k, name in enumerate(SAMPLES):
    anns.append(dict(x=k + 0.5, y=BAND_BOTTOM, xref="x", yref="y", text=name, textangle=-90,
                     showarrow=False, xanchor="center", yanchor="bottom", xshift=1.2, yshift=0,
                     font=dict(family=FONT, size=LABEL_SIZE, color=TEXT_COLOR), borderwidth=0, borderpad=0))
LX = N + (4955 - 4944.67) / CELL
for r, g in enumerate(GENES):
    anns.append(dict(x=LX, y=r + 1, xref="x", yref="y", text=g, showarrow=False, xanchor="left", yanchor="bottom",
                     yshift=-3, font=dict(family=FONT, size=LABEL_SIZE, color=TEXT_COLOR), borderwidth=0, borderpad=0))
anns.append(dict(x=LX, y=(354 - Y0) / CELL, xref="x", yref="y", text="SampleName", showarrow=False, xanchor="left",
                 yanchor="middle", font=dict(family=FONT, size=14.9 * SCALE, color=TEXT_COLOR), borderwidth=0, borderpad=0))

fig.update_layout(width=4096, height=590, margin=dict(l=0, r=0, t=0, b=0), paper_bgcolor="#FFFFFF",
                  plot_bgcolor="#FFFFFF", showlegend=False, annotations=anns,
                  xaxis=dict(range=[LEFT, RIGHT], visible=False, fixedrange=True),
                  yaxis=dict(range=[BOTTOM, TOP], visible=False, fixedrange=True))
fig.write_html("out.html", config={"displayModeBar": False},
               post_script="document.documentElement.style.overflow='hidden';document.body.style.margin='0';")
